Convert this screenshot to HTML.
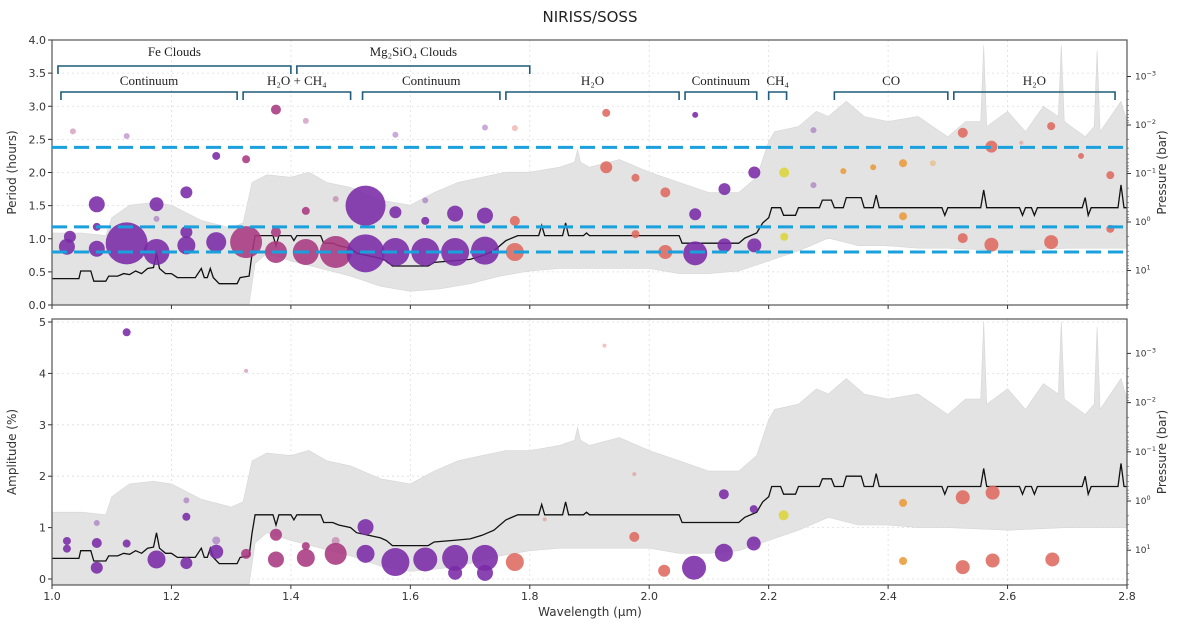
<!DOCTYPE html>
<html><head><meta charset="utf-8"><style>
html,body{margin:0;padding:0;background:#fff;}
svg{display:block;font-family:"DejaVu Sans","Liberation Sans",sans-serif;}
.ser{font-family:"Liberation Serif","DejaVu Serif",serif;}
</style></head><body>
<svg id="chart" width="1180" height="632" viewBox="0 0 1180 632" xmlns="http://www.w3.org/2000/svg">
<text x="590" y="22" text-anchor="middle" font-size="15" fill="#222">NIRISS/SOSS</text>
<defs>
<clipPath id="clipTop"><rect x="52" y="40" width="1075" height="265"/></clipPath>
<clipPath id="clipBot"><rect x="52" y="319" width="1075" height="266"/></clipPath>
</defs>
<g id="top"></g>
<g id="bot"></g>
</svg>
<script>
// ---- data ----
const bandWl = [1.0,1.05,1.09,1.1,1.13,1.17,1.2,1.25,1.3,1.32,1.335,1.36,1.4,1.43,1.46,1.5,1.55,1.6,1.64,1.68,1.72,1.76,1.8,1.85,1.875,1.88,1.885,1.9,1.95,2.0,2.05,2.1,2.15,2.18,2.2,2.21,2.25,2.28,2.3,2.33,2.36,2.4,2.45,2.5,2.53,2.555,2.56,2.565,2.6,2.63,2.66,2.685,2.69,2.695,2.73,2.745,2.75,2.755,2.79,2.8];
const bandUpperAmp = [1.3,1.3,1.25,1.6,1.85,1.9,1.85,1.55,1.4,1.5,2.3,2.45,2.4,2.5,2.3,2.2,1.95,1.85,2.1,2.3,2.4,2.5,2.5,2.6,2.7,2.95,2.7,2.6,2.75,2.5,2.3,2.1,2.1,2.4,3.1,3.3,3.4,3.7,3.6,3.9,3.6,3.5,3.6,3.2,3.5,3.5,5.0,3.4,3.7,3.3,3.8,3.6,5.0,3.5,3.2,3.4,4.9,3.3,3.9,3.5];
const bandLowWl = [1.0,1.33,1.34,1.36,1.4,1.45,1.5,1.55,1.6,1.65,1.7,1.75,1.8,1.85,1.9,2.0,2.05,2.1,2.15,2.2,2.25,2.3,2.35,2.4,2.45,2.5,2.6,2.7,2.8];
const bandLowerAmp = [-0.1,-0.1,0.7,0.9,0.75,0.6,0.45,0.25,0.15,0.2,0.3,0.45,0.55,0.6,0.6,0.6,0.5,0.5,0.55,0.75,0.95,1.2,1.05,1.05,1.0,1.0,0.95,1.0,1.0];
const lineWl = [1.0,1.045,1.048,1.065,1.07,1.09,1.095,1.11,1.12,1.13,1.14,1.15,1.16,1.17,1.175,1.18,1.19,1.2,1.21,1.24,1.25,1.255,1.26,1.265,1.27,1.28,1.31,1.315,1.33,1.335,1.34,1.37,1.375,1.38,1.4,1.405,1.41,1.45,1.455,1.47,1.48,1.5,1.51,1.53,1.55,1.56,1.57,1.63,1.64,1.67,1.7,1.72,1.74,1.76,1.78,1.815,1.82,1.825,1.855,1.86,1.865,1.89,1.895,1.9,2.05,2.055,2.15,2.16,2.18,2.19,2.2,2.205,2.22,2.225,2.245,2.25,2.285,2.29,2.305,2.31,2.325,2.33,2.355,2.36,2.375,2.38,2.385,2.49,2.495,2.5,2.555,2.56,2.565,2.62,2.625,2.63,2.64,2.645,2.65,2.725,2.73,2.735,2.74,2.785,2.79,2.795,2.8];
const lineAmp = [0.4,0.4,0.55,0.55,0.35,0.35,0.45,0.45,0.5,0.48,0.55,0.5,0.6,0.62,0.9,0.6,0.5,0.5,0.42,0.42,0.6,0.42,0.42,0.6,0.42,0.3,0.3,0.42,0.45,0.9,1.25,1.25,1.05,1.25,1.25,1.15,1.25,1.25,1.1,1.1,1.05,1.0,0.9,0.85,0.8,0.75,0.65,0.65,0.72,0.75,0.78,0.85,0.95,1.15,1.25,1.25,1.45,1.25,1.25,1.5,1.25,1.25,1.3,1.25,1.25,1.1,1.1,1.2,1.3,1.5,1.6,1.8,1.8,1.65,1.65,1.8,1.8,1.95,1.95,1.8,1.8,2.0,2.0,1.8,1.8,2.05,1.8,1.8,1.65,1.8,1.8,2.15,1.8,1.8,1.65,1.8,1.8,1.65,1.8,1.8,2.0,1.65,1.8,1.8,2.25,1.8,1.8];
const periodRefs = [2.38,1.18,0.8];
const topWl = [1.025,1.03,1.035,1.075,1.075,1.075,1.125,1.125,1.175,1.175,1.175,1.225,1.225,1.225,1.275,1.275,1.325,1.325,1.375,1.375,1.375,1.425,1.425,1.425,1.475,1.475,1.525,1.525,1.575,1.575,1.575,1.625,1.625,1.625,1.675,1.675,1.725,1.725,1.725,1.775,1.775,1.775,1.928,1.928,1.977,1.977,2.027,2.027,2.077,2.077,2.077,2.126,2.126,2.176,2.176,2.226,2.226,2.275,2.275,2.325,2.375,2.425,2.425,2.475,2.525,2.525,2.573,2.573,2.623,2.673,2.673,2.723,2.772,2.772];
const topPeriod = [0.88,1.03,2.62,1.52,0.85,1.18,0.93,2.55,0.8,1.52,1.3,1.7,1.1,0.9,0.95,2.25,0.95,2.2,0.8,2.95,1.1,0.8,2.78,1.42,0.8,1.6,0.78,1.5,0.8,1.4,2.57,0.8,1.58,1.27,0.8,1.38,0.82,1.35,2.68,0.8,1.27,2.67,2.9,2.08,1.92,1.07,1.7,0.8,2.87,1.37,0.78,1.75,0.9,2.0,0.9,2.0,1.03,2.64,1.81,2.02,2.08,2.14,1.34,2.14,2.6,1.01,2.39,0.91,2.45,2.7,0.95,2.25,1.96,1.15];
const topSize = [8,6,3,8,8,4,21,3,13,7,3,6,6,9,10,4,16,4,11,5,5,13,3,4,16,3,19,20,14,6,3,14,3,4,14,8,14,8,3,9,5,3,4,6,4,4,5,7,3,6,12,6,7,6,7,5,4,3,3,3,3,4,4,3,5,5,6,7,2,4,7,3,4,4];
const topColor = ['P','P','Mf','P','P','P','P','Pf','P','P','Pf','P','P','P','P','P','M','M','M','M','M','M','Mf','M','M','Mf','P','P','P','P','Pf','P','Pf','P','P','P','P','P','Pf','S','S','Sf','S','S','S','S','S','S','P','P','P','P','P','P','P','Y','Y','Pf','Pf','O','O','O','O','Of','S','S','S','S','Sf','S','S','S','S','S'];
const botWl = [1.125,1.025,1.025,1.075,1.075,1.075,1.125,1.175,1.225,1.225,1.225,1.275,1.275,1.325,1.325,1.375,1.375,1.425,1.425,1.475,1.475,1.525,1.525,1.575,1.625,1.675,1.675,1.725,1.725,1.775,1.825,1.925,1.975,1.975,2.025,2.075,2.125,2.125,2.175,2.175,2.225,2.425,2.425,2.525,2.525,2.575,2.575,2.675];
const botAmp = [4.8,0.74,0.59,1.09,0.7,0.22,0.69,0.38,1.53,1.21,0.31,0.75,0.53,4.05,0.49,0.86,0.38,0.64,0.41,0.74,0.49,1.01,0.49,0.33,0.38,0.41,0.12,0.41,0.12,0.33,1.16,4.54,2.04,0.82,0.16,0.22,1.65,0.51,1.36,0.69,1.24,1.48,0.35,1.59,0.23,1.68,0.36,0.38];
const botSize = [4,4,4,3,5,6,4,9,3,4,6,4,7,2,5,6,8,4,9,4,11,8,9,14,12,13,7,13,8,9,2,2,2,5,6,12,5,9,4,7,5,4,4,7,7,7,7,7];
const botColor = ['P','P','P','Pf','P','P','P','P','Pf','P','P','Pf','P','Mf','M','M','M','M','M','Mf','M','P','P','P','P','P','P','P','P','S','Sf','Sf','Sf','S','S','P','P','P','P','P','Y','O','O','S','S','S','S','S'];
const xTicks = [1.0,1.2,1.4,1.6,1.8,2.0,2.2,2.4,2.6,2.8];
const periodTicks = [0.0,0.5,1.0,1.5,2.0,2.5,3.0,3.5,4.0];
const ampTicks = [0,1,2,3,4,5];
const pressureExp = [-3,-2,-1,0,1];
const bracketsUpper = [["Fe Clouds",1.01,1.4],["Mg₂SiO₄ Clouds",1.41,1.8]];
const bracketsLower = [["Continuum",1.015,1.31],["H₂O + CH₄",1.32,1.5],["Continuum",1.52,1.75],["H₂O",1.76,2.05],["Continuum",2.06,2.18],["CH₄",2.2,2.23],["CO",2.31,2.5],["H₂O",2.51,2.78]];

// ---- axes ----
const NS='http://www.w3.org/2000/svg';
const X0=52,X1=1127;
const xs = w => X0+(w-1.0)/1.8*(X1-X0);
const yTop = p => 305-p*66.25;
const yBot = a => 579-a*51.4;
const logP = a => (78-51.4*a)/49.2;
const yTopP = L => 222+48.5*L;
const yBotP = L => 501+49.2*L;
const COL={P:'#7a2aa6',M:'#a8387f',S:'#de6a5e',O:'#eb9a3a',Y:'#dcd43a'};
function mk(tag,attrs,parent){const e=document.createElementNS(NS,tag);for(const k in attrs)e.setAttribute(k,attrs[k]);parent.appendChild(e);return e;}

function panel(g,top,bottom,clip,yFn,pFn,ticks,label,pts){
  xTicks.forEach(t=>{const l=mk('line',{x1:xs(t),x2:xs(t),y1:top,y2:bottom,stroke:'#ddd','stroke-dasharray':'2,3','stroke-width':0.8},g);
    
    });
  ticks.forEach(t=>{const l=mk('line',{x1:X0,x2:X1,y1:yFn(t),y2:yFn(t),stroke:'#ddd','stroke-dasharray':'2,3','stroke-width':0.8},g);
    
    });
  const cg=mk('g',{'clip-path':`url(#${clip})`},g);
  let d='M';
  bandWl.forEach((w,i)=>{d+=xs(w).toFixed(1)+','+pFn(logP(bandUpperAmp[i])).toFixed(1)+' L';});
  for(let i=bandLowWl.length-1;i>=0;i--){d+=xs(bandLowWl[i]).toFixed(1)+','+pFn(logP(bandLowerAmp[i])).toFixed(1)+(i?' L':' Z');}
  const band=mk('path',{d:d,fill:'#e3e3e3',stroke:'#d6d6d6','stroke-width':0.6},cg);
  
  
  const lp=lineWl.map((w,i)=>xs(w).toFixed(1)+','+pFn(logP(lineAmp[i])).toFixed(1)).join(' ');
  const pl=mk('polyline',{points:lp,fill:'none',stroke:'#111','stroke-width':1.3},cg);
  
  
  pts.wl.forEach((w,i)=>{const c=pts.c[i];const faint=c.length>1;
    const cc=mk('circle',{cx:xs(w),cy:yFn(pts.v[i]),r:pts.s[i],fill:COL[c[0]],'fill-opacity':faint?0.4:0.88},cg);
    
    });
  const fr=mk('rect',{x:X0,y:top,width:X1-X0,height:bottom-top,fill:'none',stroke:'#555','stroke-width':1.2},g);
  
  
  ticks.forEach(t=>{mk('line',{x1:X0-4,x2:X0,y1:yFn(t),y2:yFn(t),stroke:'#333'},g);
    const tx=mk('text',{x:X0-6,y:yFn(t)+4,'text-anchor':'end','font-size':11,fill:'#333'},g);
    tx.textContent=Number.isInteger(t)&&ticks.length<7?String(t):t.toFixed(1);
    
    });
  const yl=mk('text',{x:16,y:(top+bottom)/2,'text-anchor':'middle','font-size':12,fill:'#333',transform:`rotate(-90 16 ${(top+bottom)/2})`},g);
  yl.textContent=label;
  
  
  xTicks.forEach(t=>{mk('line',{x1:xs(t),x2:xs(t),y1:bottom,y2:bottom+4,stroke:'#333'},g);});
  pressureExp.forEach(e=>{const y=pFn(e);mk('line',{x1:X1,x2:X1+4,y1:y,y2:y,stroke:'#333'},g);
    const tx=mk('text',{x:X1+8,y:y+3,'font-size':9,fill:'#333'},g);
    tx.textContent='10';
    const sp=mk('tspan',{dy:-4,'font-size':6.5},tx);sp.textContent=e<0?'−'+(-e):String(e);
    
    
    for(let k=2;k<10;k++){const ym=pFn(e+Math.log10(k));if(ym>top&&ym<bottom)mk('line',{x1:X1,x2:X1+2,y1:ym,y2:ym,stroke:'#555','stroke-width':0.6},g);}
  });
  const pl2=mk('text',{x:1166,y:(top+bottom)/2,'text-anchor':'middle','font-size':12,fill:'#333',transform:`rotate(-90 1166 ${(top+bottom)/2})`},g);
  pl2.textContent='Pressure (bar)';
  
  
}

const gT=document.getElementById('top'), gB=document.getElementById('bot');
panel(gT,40,305,'clipTop',yTop,yTopP,periodTicks,'Period (hours)',{wl:topWl,v:topPeriod,s:topSize,c:topColor});
panel(gB,319,585,'clipBot',yBot,yBotP,ampTicks,'Amplitude (%)',{wl:botWl,v:botAmp,s:botSize,c:botColor});

periodRefs.forEach(p=>{const l=mk('line',{x1:X0,x2:X1,y1:yTop(p),y2:yTop(p),stroke:'#1aa0dd','stroke-width':3,'stroke-dasharray':'15,7'},gT);
  
  });

function bracket(list,yl,ty){list.forEach(b=>{const x1=xs(b[1]),x2=xs(b[2]);
  const p=mk('path',{d:`M${x1},${yl+8} L${x1},${yl} L${x2},${yl} L${x2},${yl+8}`,fill:'none',stroke:'#1f5d7a','stroke-width':1.6},gT);
  
  
  const t=mk('text',{x:(x1+x2)/2,y:ty,'text-anchor':'middle','font-size':13,fill:'#222',class:'ser'},gT);
  t.textContent=b[0];
  
  });}
bracket(bracketsUpper,66,56);
bracket(bracketsLower,92,85);

xTicks.forEach(t=>{const tx=mk('text',{x:xs(t),y:600,'text-anchor':'middle','font-size':11,fill:'#333'},gB);
  tx.textContent=t.toFixed(1);
  
  });
const xt=mk('text',{x:590,y:616,'text-anchor':'middle','font-size':12,fill:'#333'},gB);
xt.textContent='Wavelength (µm)';


</script>
</body></html>
